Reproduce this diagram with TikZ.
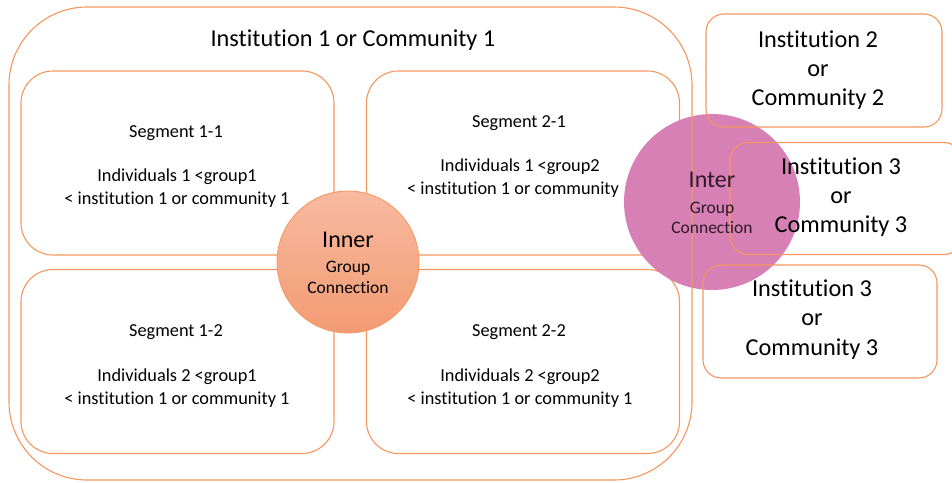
\documentclass[tikz,border=0pt]{standalone}
\usepackage{fontspec}
\setmainfont{Carlito}[Ligatures={NoCommon}]
\definecolor{orng}{RGB}{245,150,95}
\definecolor{innertop}{RGB}{247,186,160}
\definecolor{innerbot}{RGB}{243,155,115}
\definecolor{interc}{RGB}{214,128,181}
\definecolor{intertxt}{RGB}{45,25,40}
\begin{document}
\begin{tikzpicture}[x=1pt,y=-1pt,
  frame/.style={draw=orng,line width=1.1pt,rectangle,inner sep=0pt},
  seg/.style={frame,minimum width=313pt,minimum height=184pt,rounded corners=32pt},
  rbox/.style={frame,minimum width=236pt,minimum height=113pt,rounded corners=18pt},
  segtxt/.style={anchor=base,inner sep=0pt,font=\fontsize{18.3}{22}\selectfont},
  bigtxt/.style={anchor=base,inner sep=0pt,font=\fontsize{24.3}{29}\selectfont},
  cbig/.style={anchor=base,inner sep=0pt,font=\fontsize{24}{26}\selectfont},
  csmall/.style={anchor=base,inner sep=0pt,font=\fontsize{17.5}{20}\selectfont}]
\useasboundingbox (0,0) rectangle (952,482);
% segments
\node[seg] (s11) at (177.5,163) {};
\node[seg] (s21) at (523,163) {};
\node[seg] (s12) at (177.5,361.5) {};
\node[seg] (s22) at (523,361.5) {};
\node[segtxt] (t11a) at (176,137) {Segment 1-1};
\node[segtxt] (t11b) at (177,181) {Individuals 1 <group1};
\node[segtxt] (t11c) at (177,204) {< institution 1 or community 1};
\node[segtxt] (t21a) at (519,127) {Segment 2-1};
\node[segtxt] (t21b) at (520,171) {Individuals 1 <group2};
\node[segtxt,anchor=base west] (t21c) at (407,194) {< institution 1 or community};
\node[segtxt] (t12a) at (176,336) {Segment 1-2};
\node[segtxt] (t12b) at (177,381) {Individuals 2 <group1};
\node[segtxt] (t12c) at (177,404) {< institution 1 or community 1};
\node[segtxt] (t22a) at (519,336) {Segment 2-2};
\node[segtxt] (t22b) at (520,381) {Individuals 2 <group2};
\node[segtxt] (t22c) at (520,404) {< institution 1 or community 1};
% inner circle
\node[circle,draw=orng,line width=0.8pt,top color=innertop,bottom color=innerbot,minimum size=142pt,inner sep=0pt] (inner) at (348,262) {};
\node[cbig] (in1) at (348,247) {Inner};
\node[csmall] (in2) at (348,272) {Group};
\node[csmall] (in3) at (348,293) {Connection};
% inter circle
\node[circle,fill=interc,minimum size=176pt,inner sep=0pt] (inter) at (712,202) {};
% outer box
\node[frame,minimum width=683pt,minimum height=473pt,rounded corners=78pt] (outer) at (350.5,243.5) {};
\node[bigtxt] (title) at (353,46) {Institution 1 or Community 1};
% right boxes
\node[rbox] (r2) at (824,70.5) {};
\node[rbox,minimum width=232pt,minimum height=112pt] (r3a) at (846,198.5) {};
\node[rbox,minimum width=234pt] (r3b) at (820,321.5) {};
\node[bigtxt] (r2a) at (818,47) {Institution 2};
\node[bigtxt] (r2b) at (818,76) {or};
\node[bigtxt] (r2c) at (818,105) {Community 2};
\node[bigtxt] (r3aa) at (841,174) {Institution 3};
\node[bigtxt] (r3ab) at (841,203) {or};
\node[bigtxt] (r3ac) at (841,232) {Community 3};
\node[bigtxt] (r3ba) at (812,296) {Institution 3};
\node[bigtxt] (r3bb) at (812,325) {or};
\node[bigtxt] (r3bc) at (812,355) {Community 3};
% inter text
\node[cbig,text=intertxt] (it1) at (712,187) {Inter};
\node[csmall,text=intertxt] (it2) at (712,213) {Group};
\node[csmall,text=intertxt] (it3) at (712,233) {Connection};
\end{tikzpicture}
\end{document}
